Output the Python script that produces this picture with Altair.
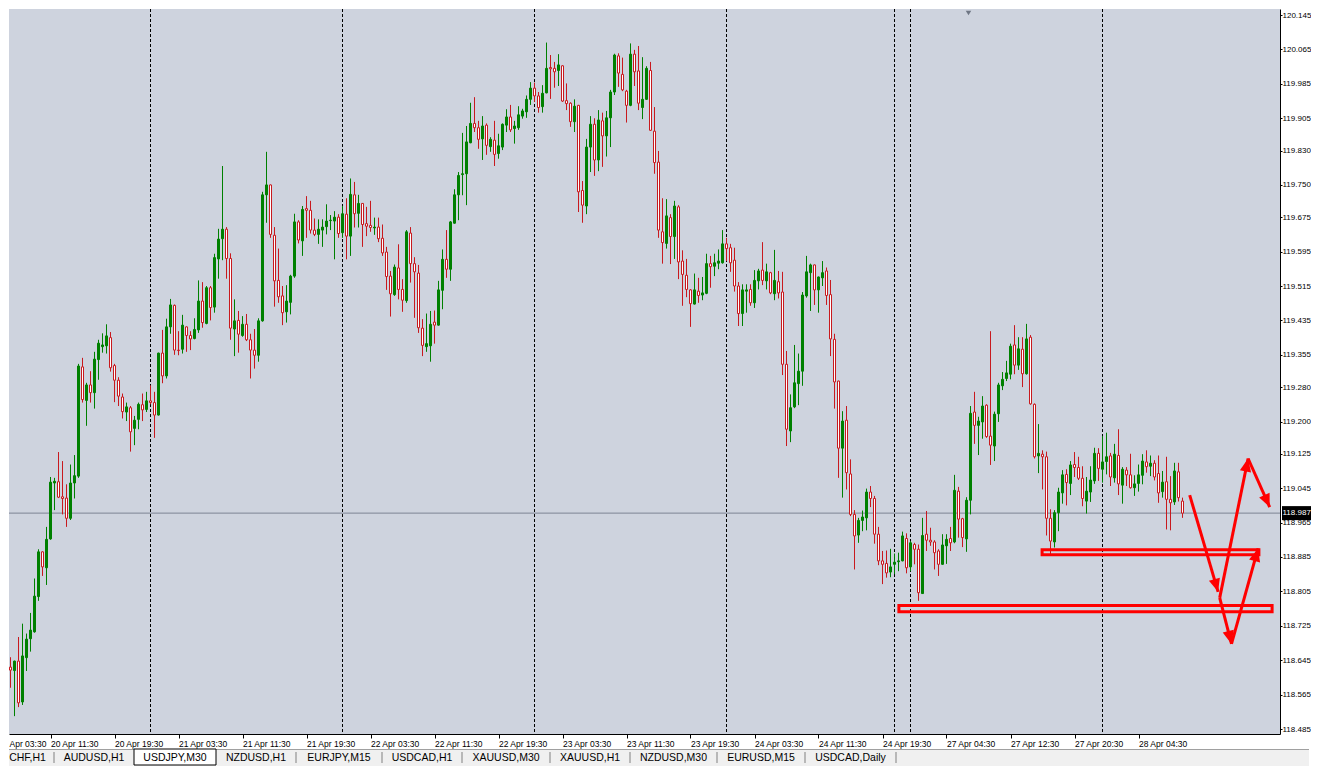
import json
import math
import altair as alt
import pandas as pd

# ---------------- data (USDJPY, M30 candles) ----------------
opens = [118.808, 118.789, 118.629, 118.621, 118.643, 118.548, 118.651, 118.695, 118.711, 118.793,
         118.897, 118.860, 118.927, 119.057, 119.060, 119.025, 119.022, 118.975, 119.057, 119.073,
         119.327, 119.249, 119.285, 119.267, 119.344, 119.374, 119.376, 119.395, 119.330, 119.296,
         119.257, 119.222, 119.232, 119.184, 119.205, 119.239, 119.228, 119.248, 119.244, 119.215,
         119.359, 119.306, 119.420, 119.470, 119.366, 119.368, 119.420, 119.400, 119.393, 119.413,
         119.480, 119.428, 119.511, 119.466, 119.578, 119.625, 119.647, 119.579, 119.415, 119.435,
         119.400, 119.426, 119.390, 119.366, 119.354, 119.434, 119.727, 119.750, 119.633, 119.528,
         119.492, 119.455, 119.477, 119.538, 119.664, 119.620, 119.695, 119.691, 119.645, 119.635,
         119.645, 119.653, 119.667, 119.666, 119.675, 119.639, 119.682, 119.631, 119.727, 119.684,
         119.707, 119.660, 119.656, 119.650, 119.652, 119.626, 119.594, 119.538, 119.495, 119.557,
         119.507, 119.481, 119.638, 119.567, 119.545, 119.417, 119.374, 119.376, 119.431, 119.424,
         119.505, 119.577, 119.554, 119.661, 119.727, 119.774, 119.776, 119.848, 119.893, 119.883,
         119.857, 119.889, 119.839, 119.854, 119.823, 119.838, 119.889, 119.908, 119.881, 119.883,
         119.910, 119.920, 119.949, 119.975, 119.957, 119.932, 119.964, 120.023, 120.021, 120.016,
         120.027, 119.946, 119.940, 119.897, 119.935, 119.737, 119.701, 119.838, 119.891, 119.808,
         119.899, 119.864, 119.906, 119.966, 120.050, 120.007, 119.968, 119.935, 120.054, 120.015,
         119.930, 119.949, 120.016, 119.875, 119.803, 119.641, 119.614, 119.674, 119.630, 119.699,
         119.573, 119.540, 119.506, 119.473, 119.503, 119.494, 119.498, 119.567, 119.561, 119.568,
         119.569, 119.613, 119.604, 119.575, 119.515, 119.451, 119.503, 119.507, 119.476, 119.527,
         119.552, 119.527, 119.546, 119.497, 119.525, 119.501, 119.333, 119.178, 119.234, 119.288,
         119.317, 119.492, 119.546, 119.564, 119.506, 119.534, 119.550, 119.495, 119.391, 119.294,
         119.138, 119.203, 119.078, 118.984, 118.936, 118.970, 118.976, 119.036, 119.021, 118.938,
         118.876, 118.870, 118.850, 118.868, 118.874, 118.876, 118.928, 118.862, 118.914, 118.903,
         118.800, 118.938, 118.924, 118.920, 118.899, 118.868, 118.911, 118.928, 118.920, 119.038,
         118.974, 118.927, 119.017, 119.222, 119.191, 119.199, 119.238, 119.166, 119.143, 119.218,
         119.283, 119.300, 119.310, 119.378, 119.331, 119.368, 119.311, 119.396, 119.240, 119.120,
         119.124, 119.118, 118.975, 118.920, 118.988, 119.034, 119.077, 119.056, 119.100, 119.093,
         119.068, 119.015, 119.036, 119.062, 119.126, 119.089, 119.107, 119.120, 119.069, 119.121,
         119.052, 119.087, 119.076, 119.046, 119.056, 119.075, 119.106, 119.096, 119.103, 119.079,
         119.037, 119.060, 119.019, 119.013, 119.083, 119.015]
highs = [118.829, 118.792, 118.652, 118.644, 118.699, 118.730, 118.707, 118.755, 118.835, 118.903,
         118.898, 118.955, 119.071, 119.069, 119.129, 119.108, 119.054, 119.100, 119.122, 119.334,
         119.348, 119.290, 119.317, 119.362, 119.390, 119.405, 119.426, 119.408, 119.334, 119.303,
         119.265, 119.244, 119.236, 119.213, 119.244, 119.265, 119.269, 119.284, 119.269, 119.360,
         119.413, 119.439, 119.485, 119.472, 119.410, 119.448, 119.421, 119.410, 119.440, 119.528,
         119.524, 119.515, 119.515, 119.590, 119.648, 119.794, 119.652, 119.591, 119.484, 119.457,
         119.445, 119.450, 119.404, 119.415, 119.440, 119.734, 119.827, 119.751, 119.652, 119.602,
         119.515, 119.517, 119.541, 119.683, 119.668, 119.701, 119.724, 119.713, 119.672, 119.670,
         119.670, 119.705, 119.680, 119.689, 119.682, 119.701, 119.719, 119.765, 119.757, 119.727,
         119.708, 119.699, 119.713, 119.674, 119.674, 119.658, 119.606, 119.550, 119.565, 119.612,
         119.531, 119.645, 119.652, 119.582, 119.564, 119.438, 119.451, 119.457, 119.458, 119.527,
         119.600, 119.645, 119.666, 119.740, 119.780, 119.871, 119.887, 119.941, 119.954, 119.899,
         119.910, 119.893, 119.861, 119.899, 119.869, 119.893, 119.926, 119.936, 119.899, 119.933,
         119.927, 119.958, 119.989, 119.988, 119.966, 119.982, 120.081, 120.052, 120.036, 120.054,
         120.028, 119.986, 119.942, 119.949, 119.936, 119.759, 119.857, 119.910, 119.905, 119.924,
         119.918, 119.922, 119.971, 120.055, 120.056, 120.046, 119.971, 120.079, 120.064, 120.073,
         120.047, 120.026, 120.036, 119.931, 119.829, 119.719, 119.717, 119.682, 119.713, 119.703,
         119.598, 119.578, 119.508, 119.544, 119.534, 119.536, 119.590, 119.585, 119.590, 119.600,
         119.645, 119.627, 119.613, 119.604, 119.524, 119.519, 119.519, 119.519, 119.552, 119.555,
         119.617, 119.567, 119.548, 119.599, 119.550, 119.548, 119.364, 119.263, 119.378, 119.358,
         119.501, 119.585, 119.567, 119.565, 119.537, 119.573, 119.558, 119.529, 119.404, 119.295,
         119.224, 119.236, 119.112, 118.994, 118.976, 118.993, 119.044, 119.050, 119.027, 118.955,
         118.899, 118.900, 118.904, 118.893, 118.895, 118.944, 118.940, 118.922, 118.918, 118.914,
         118.976, 118.992, 118.953, 118.924, 118.903, 118.938, 118.938, 118.955, 119.076, 119.048,
         118.976, 119.024, 119.236, 119.269, 119.211, 119.259, 119.240, 119.410, 119.223, 119.290,
         119.315, 119.341, 119.381, 119.424, 119.396, 119.396, 119.427, 119.401, 119.242, 119.194,
         119.133, 119.130, 118.996, 118.994, 119.046, 119.087, 119.089, 119.108, 119.129, 119.118,
         119.096, 119.071, 119.096, 119.139, 119.138, 119.166, 119.174, 119.127, 119.148, 119.182,
         119.094, 119.094, 119.125, 119.075, 119.100, 119.124, 119.133, 119.121, 119.110, 119.121,
         119.085, 119.118, 119.073, 119.104, 119.104, 119.023]
lows = [118.767, 118.618, 118.581, 118.515, 118.536, 118.541, 118.620, 118.665, 118.709, 118.783,
        118.841, 118.820, 118.925, 118.994, 119.022, 118.984, 118.955, 118.971, 119.021, 119.069,
        119.244, 119.190, 119.244, 119.230, 119.297, 119.360, 119.358, 119.316, 119.245, 119.236,
        119.207, 119.201, 119.130, 119.145, 119.182, 119.201, 119.222, 119.240, 119.162, 119.214,
        119.289, 119.300, 119.404, 119.355, 119.354, 119.358, 119.362, 119.366, 119.391, 119.406,
        119.418, 119.426, 119.435, 119.453, 119.532, 119.575, 119.532, 119.390, 119.352, 119.360,
        119.397, 119.387, 119.300, 119.323, 119.339, 119.432, 119.662, 119.627, 119.467, 119.476,
        119.424, 119.430, 119.449, 119.534, 119.614, 119.585, 119.627, 119.637, 119.631, 119.613,
        119.606, 119.635, 119.645, 119.577, 119.627, 119.627, 119.577, 119.585, 119.651, 119.651,
        119.606, 119.631, 119.641, 119.634, 119.617, 119.585, 119.506, 119.444, 119.492, 119.484,
        119.455, 119.476, 119.523, 119.441, 119.406, 119.352, 119.362, 119.339, 119.381, 119.423,
        119.461, 119.534, 119.527, 119.660, 119.668, 119.726, 119.703, 119.847, 119.873, 119.834,
        119.808, 119.820, 119.827, 119.794, 119.811, 119.831, 119.873, 119.873, 119.846, 119.878,
        119.904, 119.906, 119.936, 119.943, 119.918, 119.918, 119.963, 119.950, 119.976, 119.980,
        119.943, 119.924, 119.885, 119.873, 119.687, 119.662, 119.682, 119.780, 119.771, 119.782,
        119.792, 119.816, 119.838, 119.959, 119.978, 119.968, 119.895, 119.933, 119.980, 119.924,
        119.903, 119.948, 119.876, 119.776, 119.627, 119.567, 119.602, 119.566, 119.578, 119.531,
        119.469, 119.489, 119.420, 119.472, 119.476, 119.482, 119.496, 119.511, 119.538, 119.554,
        119.567, 119.573, 119.548, 119.502, 119.422, 119.422, 119.453, 119.469, 119.464, 119.507,
        119.517, 119.507, 119.496, 119.482, 119.486, 119.308, 119.143, 119.152, 119.231, 119.238,
        119.283, 119.488, 119.457, 119.471, 119.453, 119.515, 119.471, 119.352, 119.230, 119.069,
        119.023, 119.042, 118.980, 118.856, 118.918, 118.945, 118.947, 119.001, 118.916, 118.866,
        118.822, 118.837, 118.838, 118.845, 118.852, 118.875, 118.847, 118.852, 118.868, 118.783,
        118.799, 118.899, 118.911, 118.856, 118.841, 118.867, 118.869, 118.899, 118.917, 118.930,
        118.908, 118.897, 118.984, 119.148, 119.122, 119.160, 119.162, 119.099, 119.108, 119.199,
        119.273, 119.294, 119.298, 119.310, 119.320, 119.280, 119.309, 119.239, 119.114, 119.080,
        119.042, 118.935, 118.891, 118.907, 118.945, 119.009, 119.005, 119.029, 119.071, 119.064,
        119.003, 118.986, 119.013, 119.055, 119.062, 119.058, 119.077, 119.050, 119.058, 119.029,
        119.009, 119.050, 119.044, 119.027, 119.037, 119.054, 119.081, 119.073, 119.063, 119.011,
        119.023, 118.949, 118.947, 119.006, 119.014, 118.976]
closes = [118.790, 118.628, 118.622, 118.643, 118.546, 118.655, 118.694, 118.715, 118.794, 118.897,
          118.862, 118.926, 119.059, 119.061, 119.024, 119.021, 118.975, 119.057, 119.074, 119.329,
          119.251, 119.285, 119.267, 119.345, 119.382, 119.378, 119.399, 119.325, 119.296, 119.259,
          119.223, 119.234, 119.176, 119.203, 119.240, 119.227, 119.248, 119.244, 119.215, 119.359,
          119.306, 119.420, 119.471, 119.366, 119.365, 119.424, 119.400, 119.392, 119.414, 119.480,
          119.430, 119.511, 119.465, 119.581, 119.624, 119.647, 119.579, 119.417, 119.434, 119.403,
          119.426, 119.390, 119.366, 119.354, 119.434, 119.727, 119.750, 119.635, 119.527, 119.490,
          119.453, 119.480, 119.538, 119.664, 119.622, 119.693, 119.691, 119.645, 119.635, 119.647,
          119.652, 119.666, 119.668, 119.675, 119.637, 119.683, 119.631, 119.728, 119.683, 119.707,
          119.658, 119.654, 119.651, 119.652, 119.625, 119.592, 119.537, 119.497, 119.559, 119.507,
          119.482, 119.641, 119.567, 119.548, 119.418, 119.377, 119.381, 119.426, 119.424, 119.506,
          119.577, 119.554, 119.664, 119.727, 119.772, 119.776, 119.850, 119.893, 119.883, 119.856,
          119.887, 119.842, 119.856, 119.821, 119.841, 119.891, 119.908, 119.878, 119.887, 119.913,
          119.922, 119.949, 119.975, 119.957, 119.930, 119.963, 120.021, 120.020, 120.013, 120.029,
          119.945, 119.939, 119.897, 119.933, 119.734, 119.703, 119.838, 119.891, 119.808, 119.901,
          119.864, 119.906, 119.966, 120.052, 120.010, 119.971, 119.935, 120.054, 120.013, 119.940,
          119.949, 120.021, 119.877, 119.802, 119.645, 119.616, 119.678, 119.630, 119.701, 119.571,
          119.542, 119.507, 119.474, 119.506, 119.493, 119.499, 119.567, 119.560, 119.569, 119.573,
          119.613, 119.602, 119.569, 119.515, 119.451, 119.506, 119.506, 119.476, 119.528, 119.550,
          119.528, 119.548, 119.499, 119.528, 119.499, 119.333, 119.182, 119.232, 119.290, 119.317,
          119.494, 119.548, 119.564, 119.506, 119.536, 119.546, 119.493, 119.392, 119.292, 119.138,
          119.201, 119.081, 118.984, 118.934, 118.970, 118.978, 119.036, 119.021, 118.938, 118.876,
          118.868, 118.848, 118.862, 118.873, 118.876, 118.934, 118.860, 118.918, 118.903, 118.802,
          118.935, 118.924, 118.920, 118.895, 118.868, 118.913, 118.926, 118.918, 119.040, 118.973,
          118.930, 119.017, 119.219, 119.191, 119.201, 119.236, 119.165, 119.145, 119.217, 119.285,
          119.298, 119.313, 119.375, 119.331, 119.369, 119.311, 119.392, 119.241, 119.118, 119.126,
          119.118, 118.975, 118.922, 118.988, 119.036, 119.076, 119.058, 119.099, 119.093, 119.068,
          119.021, 119.038, 119.064, 119.126, 119.091, 119.106, 119.118, 119.071, 119.124, 119.055,
          119.089, 119.076, 119.046, 119.055, 119.076, 119.108, 119.095, 119.103, 119.071, 119.034,
          119.059, 119.019, 119.011, 119.085, 119.023, 118.987]

# time axis: bar index of each labelled tick and its text
x_tick_bars = [1.625, 12, 28, 44, 60, 76, 92, 108, 124, 140, 156, 172, 188, 204, 220, 236, 252, 268, 284]
x_tick_labels = ["Apr 03:30", "20 Apr 11:30", "20 Apr 19:30", "21 Apr 03:30", "21 Apr 11:30",
                 "21 Apr 19:30", "22 Apr 03:30", "22 Apr 11:30", "22 Apr 19:30", "23 Apr 03:30",
                 "23 Apr 11:30", "23 Apr 19:30", "24 Apr 03:30", "24 Apr 11:30", "24 Apr 19:30",
                 "27 Apr 04:30", "27 Apr 12:30", "27 Apr 20:30", "28 Apr 04:30"]
# price axis labels
y_tick_values = [120.145, 120.065, 119.985, 119.905, 119.830, 119.750, 119.675, 119.595, 119.515,
                 119.435, 119.355, 119.280, 119.200, 119.125, 119.045, 118.965, 118.885, 118.805,
                 118.725, 118.645, 118.565, 118.485]
# day separators (bar index)
separator_bars = [37, 85, 133, 181, 223, 227, 275]
current_price = [118.987]
shift_marker_bar = [241.5]

# hand-drawn annotations (bar index / price)
zone_x0 = [259.9, 224.1]
zone_x1 = [314.1, 317.4]
zone_p0 = [118.890, 118.758]
zone_p1 = [118.902, 118.772]

arrow_x0 = [296.8, 304.3, 311.4, 304.3, 307.25]
arrow_p0 = [119.029, 118.790, 119.114, 118.790, 118.683]
arrow_x1 = [303.9, 311.4, 316.8, 307.25, 313.9]
arrow_p1 = [118.804, 119.114, 119.001, 118.683, 118.905]

# terminal tabs (first one is cut by the window edge: only "CHF,H1" shows)
tab_names = ["CHF,H1", "AUDUSD,H1", "USDJPY,M30", "NZDUSD,H1", "EURJPY,M15", "USDCAD,H1",
             "XAUUSD,M30", "XAUUSD,H1", "NZDUSD,M30", "EURUSD,M15", "USDCAD,Daily"]
active_tab = 2

# ---------------- layout / style ----------------
PLOT_W, PLOT_H = 1271, 725
X_DOMAIN = [1.625, 319.375]
Y_DOMAIN = [118.4735, 120.159]
tab_edges = [-8, 45, 125, 207, 287, 373, 453, 541, 621, 708, 796, 887]
BG = "#CED3DE"
GREEN = "#008000"
RED = "#C8191E"
ANNOT = "#FF0000"
FONT = "Liberation Sans"

bars = pd.DataFrame({"i": list(range(len(opens))), "open": opens, "high": highs,
                     "low": lows, "close": closes})
bars["dir"] = ["up" if c >= o else "down" for o, c in zip(opens, closes)]

x_scale = alt.Scale(domain=X_DOMAIN, nice=False, zero=False)
y_scale = alt.Scale(domain=Y_DOMAIN, nice=False, zero=False)

label_expr = "{}[indexof({}, datum.value)]".format(json.dumps(x_tick_labels), json.dumps(x_tick_bars))
x_axis = alt.Axis(values=x_tick_bars, labelExpr=label_expr, labelAlign="left", labelAngle=0,
                  labelBaseline="top", tickSize=4, tickColor="black", domainColor="black",
                  labelColor="black", labelFont=FONT, labelFontSize=8.5, labelPadding=1,
                  labelFlush=False, labelOverlap=False, grid=False, title=None,
                  tickOpacity={"condition": {"test": "datum.value < 5", "value": 0}, "value": 1})
y_axis = alt.Axis(orient="right", values=y_tick_values, format=".3f", tickSize=2,
                  tickColor="black", domainColor="black", labelColor="black", labelFont=FONT,
                  labelFontSize=8, labelPadding=0, labelFlush=False, labelOverlap=False,
                  grid=False, title=None)


def X(field):
    return alt.X(field, scale=x_scale, axis=x_axis, title=None)


def Y(field):
    return alt.Y(field, scale=y_scale, axis=y_axis, title=None)


wicks = alt.Chart(bars).mark_rule(strokeWidth=1, clip=True).encode(
    x=X("i:Q"), y=Y("low:Q"), y2="high:Q",
    color=alt.Color("dir:N", scale=alt.Scale(domain=["up", "down"], range=[GREEN, RED]), legend=None),
)
bodies = alt.Chart(bars).transform_calculate(
    xl="datum.i - 0.25", xr="datum.i + 0.25"
).mark_rect(strokeWidth=1, clip=True).encode(
    x=X("xl:Q"), x2="xr:Q", y=Y("open:Q"), y2="close:Q",
    fill=alt.Fill("dir:N", scale=alt.Scale(domain=["up", "down"], range=[GREEN, "#FFFFFF"]), legend=None),
    stroke=alt.Stroke("dir:N", scale=alt.Scale(domain=["up", "down"], range=[GREEN, RED]), legend=None),
)

seps = alt.Chart(pd.DataFrame({"i": separator_bars})).mark_rule(
    color="black", strokeWidth=1, strokeDash=[3, 2]
).encode(x=X("i:Q"))

price_df = pd.DataFrame({"p": current_price})
price_line = alt.Chart(price_df).mark_rule(color="#7C8494", strokeWidth=1).encode(y=Y("p:Q"))

label_box = alt.Chart(price_df).transform_calculate(
    lo="datum.p - 0.0163", hi="datum.p + 0.0163"
).mark_rect(color="black", clip=False).encode(
    x=alt.value(PLOT_W + 2), x2=alt.value(PLOT_W + 31), y=Y("lo:Q"), y2="hi:Q")
label_text = alt.Chart(price_df).mark_text(
    color="white", align="left", baseline="middle", font=FONT, fontSize=8, clip=False
).encode(x=alt.value(PLOT_W + 2.5), y=Y("p:Q"), text=alt.Text("p:Q", format=".3f"))

shift_mark = alt.Chart(pd.DataFrame({"i": shift_marker_bar})).mark_point(
    shape="triangle-down", filled=True, color="#6F7684", size=30, opacity=1
).encode(x=X("i:Q"), y=alt.value(4))

zones = alt.Chart(pd.DataFrame({"x0": zone_x0, "x1": zone_x1, "p0": zone_p0, "p1": zone_p1})).mark_rect(
    fillOpacity=0, stroke=ANNOT, strokeWidth=3, clip=True
).encode(x=X("x0:Q"), x2="x1:Q", y=Y("p0:Q"), y2="p1:Q")

px_per_bar = PLOT_W / (X_DOMAIN[1] - X_DOMAIN[0])
px_per_price = PLOT_H / (Y_DOMAIN[1] - Y_DOMAIN[0])
arrows = pd.DataFrame({"x0": arrow_x0, "p0": arrow_p0, "x1": arrow_x1, "p1": arrow_p1})
arrows["angle"] = [
    (math.degrees(math.atan2((b - a) * px_per_bar, (q - p) * px_per_price)) + 360) % 360
    for a, p, b, q in zip(arrow_x0, arrow_p0, arrow_x1, arrow_p1)
]
arrow_lines = alt.Chart(arrows).mark_rule(color=ANNOT, strokeWidth=3, clip=True).encode(
    x=X("x0:Q"), x2="x1:Q", y=Y("p0:Q"), y2="p1:Q")
arrow_heads = alt.Chart(arrows).mark_point(
    shape="M0,0L-1,2.3L1,2.3Z", filled=True, color=ANNOT, size=130, opacity=1, clip=True
).encode(x=X("x1:Q"), y=Y("p1:Q"), angle=alt.Angle("angle:Q", scale=None))

main = alt.layer(
    seps, price_line, wicks, bodies, zones, arrow_lines, arrow_heads, shift_mark, label_box, label_text
).properties(width=PLOT_W, height=PLOT_H, view=alt.ViewBackground(fill=BG, stroke=None))

# ---------------- tab bar ----------------
TAB_W, TAB_H = 1300, 17
tabs = pd.DataFrame({"name": tab_names,
                     "left": tab_edges[:-1], "right": tab_edges[1:]})
tabs["c"] = (tabs["left"] + tabs["right"]) / 2
tabs["y"] = TAB_H / 2
tx = alt.Scale(domain=[0, TAB_W], nice=False, zero=False)
ty = alt.Scale(domain=[TAB_H, 0], nice=False, zero=False)

tab_top = alt.Chart(pd.DataFrame({"y": [0.5]})).mark_rule(color="#A0A0A0").encode(
    y=alt.Y("y:Q", scale=ty, axis=None))
active = alt.Chart(tabs.iloc[[active_tab]]).mark_rect(
    fill="white", stroke="black", strokeWidth=1
).encode(x=alt.X("left:Q", scale=tx, axis=None), x2="right:Q",
         y=alt.value(0), y2=alt.value(TAB_H - 1))
sep_df = pd.DataFrame({"x": [e for k, e in enumerate(tab_edges[1:], start=1)
                             if k not in (active_tab, active_tab + 1)]})
tab_seps = alt.Chart(sep_df).mark_rule(color="#808080").encode(
    x=alt.X("x:Q", scale=tx, axis=None), y=alt.value(3), y2=alt.value(TAB_H - 3))
tab_text = alt.Chart(tabs).mark_text(
    font=FONT, fontSize=10.5, color="black", baseline="middle", align="center", clip=True
).encode(x=alt.X("c:Q", scale=tx, axis=None), y=alt.Y("y:Q", scale=ty, axis=None), text="name:N")

tabbar = alt.layer(tab_top, active, tab_seps, tab_text).properties(
    width=TAB_W, height=TAB_H, view=alt.ViewBackground(fill="#F0F0F0", stroke=None))

chart = alt.vconcat(main, tabbar, spacing=0).properties(padding=0).configure(background="white")

chart.save("out.html", embed_options={"renderer": "svg", "actions": False})
